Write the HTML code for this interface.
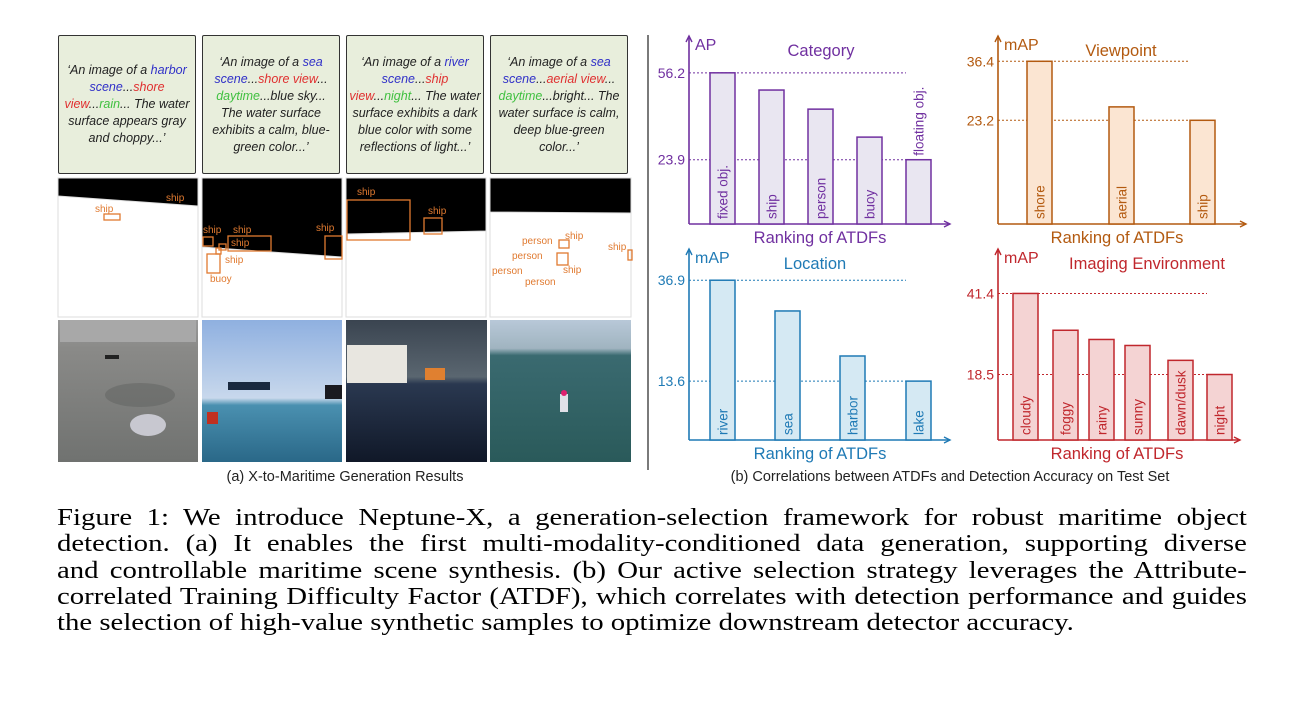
<!DOCTYPE html>
<html><head><meta charset="utf-8">
<style>
body{margin:0;width:1302px;height:702px;background:#fff;overflow:hidden;font-family:"Liberation Sans",sans-serif;}
.tb{position:absolute;top:35px;width:138px;height:139px;background:#e8eedc;border:1px solid #333;border-radius:2px;box-sizing:border-box;display:flex;align-items:center;justify-content:center;text-align:center;font-size:12.5px;line-height:17px;color:#222;font-style:italic;padding:2px}
.tb>div{width:100%}
.b{color:#3030c8}.r{color:#e03030}.g{color:#40c040}
.cap{position:absolute;left:57px;top:505px;width:1017px;transform:scaleX(1.17);transform-origin:0 0;font-family:"Liberation Serif",serif;font-size:24.6px;line-height:26.3px;color:#000}
.cap div{text-align:justify;text-align-last:justify;white-space:nowrap}
.cap div.last{text-align-last:left}
</style></head><body>
<div class="tb" style="left:58px"><div>‘An image of a <span class="b">harbor scene</span>...<span class="r">shore view</span>...<span class="g">rain</span>... The water surface appears gray and choppy...’</div></div>
<div class="tb" style="left:202px"><div>‘An image of a <span class="b">sea scene</span>...<span class="r">shore view</span>... <span class="g">daytime</span>...blue sky... The water surface exhibits a calm, blue-green color...’</div></div>
<div class="tb" style="left:346px"><div>‘An image of a <span class="b">river scene</span>...<span class="r">ship view</span>...<span class="g">night</span>... The water surface exhibits a dark blue color with some reflections of light...’</div></div>
<div class="tb" style="left:490px"><div>‘An image of a <span class="b">sea scene</span>...<span class="r">aerial view</span>... <span class="g">daytime</span>...bright... The water surface is calm, deep blue-green color...’</div></div>

<svg style="position:absolute;left:0;top:0" width="1302" height="500">
<defs>
<linearGradient id="p1" x1="0" y1="0" x2="0" y2="1"><stop offset="0" stop-color="#9a9a9a"/><stop offset=".2" stop-color="#8a8a88"/><stop offset="1" stop-color="#707270"/></linearGradient>
<linearGradient id="p2" x1="0" y1="0" x2="0" y2="1"><stop offset="0" stop-color="#8fb0e0"/><stop offset=".55" stop-color="#c8d8ec"/><stop offset=".6" stop-color="#4a90b0"/><stop offset="1" stop-color="#2a6888"/></linearGradient>
<linearGradient id="p3" x1="0" y1="0" x2="0" y2="1"><stop offset="0" stop-color="#3a4450"/><stop offset=".4" stop-color="#5a6670"/><stop offset=".45" stop-color="#2a3850"/><stop offset="1" stop-color="#101828"/></linearGradient>
<linearGradient id="p4" x1="0" y1="0" x2="0" y2="1"><stop offset="0" stop-color="#b8c8d8"/><stop offset=".2" stop-color="#a0b4c0"/><stop offset=".25" stop-color="#3a6a70"/><stop offset="1" stop-color="#2a5a5a"/></linearGradient>
</defs>
<g stroke="#ddd">
<rect x="58" y="178" width="140" height="139" fill="#fff"/><polygon points="58,178 198,178 198,206 58,196" fill="#000"/>
<rect x="202" y="178" width="140" height="139" fill="#fff"/><polygon points="202,178 342,178 342,257 202,247" fill="#000"/>
<rect x="346" y="178" width="140" height="139" fill="#fff"/><polygon points="346,178 486,178 486,231 346,234" fill="#000"/>
<rect x="490" y="178" width="141" height="139" fill="#fff"/><polygon points="490,178 631,178 631,213 490,212" fill="#000"/>
</g>
<g fill="none" stroke="#e07a30" stroke-width="1.3">
<rect x="104" y="214" width="16" height="6"/>
<rect x="203" y="237" width="10" height="9"/><rect x="228" y="236" width="43" height="15"/><rect x="219" y="244" width="7" height="6"/><rect x="216" y="248" width="5" height="6"/><rect x="207" y="254" width="13" height="19"/><rect x="325" y="236" width="17" height="23"/>
<rect x="347" y="200" width="63" height="40"/><rect x="424" y="218" width="18" height="16"/>
<rect x="559" y="240" width="10" height="8"/><rect x="557" y="253" width="11" height="12"/><rect x="628" y="250" width="4" height="10"/>
</g>
<g fill="#e07a30" font-size="10">
<text x="166" y="201">ship</text><text x="95" y="212">ship</text>
<text x="203" y="233">ship</text><text x="233" y="233">ship</text><text x="231" y="246">ship</text><text x="225" y="263">ship</text><text x="210" y="282">buoy</text><text x="316" y="231">ship</text>
<text x="357" y="195">ship</text><text x="428" y="214">ship</text>
<text x="522" y="244">person</text><text x="565" y="239">ship</text><text x="512" y="259">person</text><text x="492" y="274">person</text><text x="563" y="273">ship</text><text x="525" y="285">person</text><text x="608" y="250">ship</text>
</g>
<g>
<rect x="58" y="320" width="140" height="142" fill="url(#p1)"/><rect x="60" y="320" width="136" height="22" fill="#a8a8a8"/><ellipse cx="148" cy="425" rx="18" ry="11" fill="#c8c8d0"/><ellipse cx="140" cy="395" rx="35" ry="12" fill="#606260" opacity=".5"/><rect x="105" y="355" width="14" height="4" fill="#222"/>
<rect x="202" y="320" width="140" height="142" fill="url(#p2)"/><rect x="228" y="382" width="42" height="8" fill="#1a2a40"/><rect x="325" y="385" width="17" height="14" fill="#1a1a20"/><rect x="207" y="412" width="11" height="12" fill="#c03020"/>
<rect x="346" y="320" width="141" height="142" fill="url(#p3)"/><rect x="347" y="345" width="60" height="38" fill="#e8e6e0"/><rect x="425" y="368" width="20" height="12" fill="#e08030"/>
<rect x="490" y="320" width="141" height="142" fill="url(#p4)"/><rect x="560" y="394" width="8" height="18" fill="#e0e0e8"/><circle cx="564" cy="393" r="3" fill="#e02070"/>
</g>
<line x1="648" y1="35" x2="648" y2="470" stroke="#222" stroke-width="1.2"/>
<g id="charts"></g>
</svg>

<div style="position:absolute;left:58px;top:469px;width:574px;text-align:center;font-size:14.5px;color:#222">(a) X-to-Maritime Generation Results</div>
<div style="position:absolute;left:650px;top:469px;width:600px;text-align:center;font-size:14.5px;color:#222">(b) Correlations between ATDFs and Detection Accuracy on Test Set</div>
<div class="cap">
<div>Figure 1: We introduce Neptune-X, a generation-selection framework for robust maritime object</div>
<div>detection. (a) It enables the first multi-modality-conditioned data generation, supporting diverse</div>
<div>and controllable maritime scene synthesis. (b) Our active selection strategy leverages the Attribute-</div>
<div>correlated Training Difficulty Factor (ATDF), which correlates with detection performance and guides</div>
<div class="last">the selection of high-value synthetic samples to optimize downstream detector accuracy.</div>
</div>

<script>
const catLabels=["fixed obj.","ship","person","buoy","floating obj."];
const catValues=[56.2,49.8,42.7,32.3,23.9];
const catTicks=[56.2,23.9];
const vpLabels=["shore","aerial","ship"];
const vpValues=[36.4,26.2,23.2];
const vpTicks=[36.4,23.2];
const locLabels=["river","sea","harbor","lake"];
const locValues=[36.9,29.8,19.4,13.6];
const locTicks=[36.9,13.6];
const envLabels=["cloudy","foggy","rainy","sunny","dawn/dusk","night"];
const envValues=[41.4,31.0,28.4,26.7,22.5,18.5];
const envTicks=[41.4,18.5];

const NS="http://www.w3.org/2000/svg";
const root=document.getElementById('charts');
function mk(tag,attrs,parent){const e=document.createElementNS(NS,tag);for(const k in attrs)e.setAttribute(k,attrs[k]);(parent||root).appendChild(e);return e;}
function chart(o){
  const g=mk('g',{});
  
  
  const y=v=>o.base-v*o.k;
  const ax=mk('path',{d:`M${o.ax},${o.base} L${o.ax},${o.top} M${o.ax},${o.base} L${o.xend},${o.base}`,stroke:o.c,'stroke-width':1.6,fill:'none'},g);
  
  
  mk('path',{d:`M${o.ax-3},${o.top+6} L${o.ax},${o.top} L${o.ax+3},${o.top+6} M${o.xend-6},${o.base-3} L${o.xend},${o.base} L${o.xend-6},${o.base+3}`,stroke:o.c,'stroke-width':1.4,fill:'none'},g);
  o.ticks.forEach(t=>{
    const tl=mk('line',{x1:o.ax,x2:o.tickEnd,y1:y(t),y2:y(t),stroke:o.c,'stroke-dasharray':'2,2','stroke-width':1},g);
    
    
    const tx=mk('text',{x:o.ax-4,y:y(t)+5,fill:o.c,'font-size':14,'text-anchor':'end'},g);
    tx.textContent=t.toFixed(1);
    
    
  });
  o.vals.forEach((v,i)=>{
    const x0=o.ax+o.pos[i];
    const r=mk('rect',{x:x0,y:y(v),width:o.w,height:o.base-y(v),fill:o.f,stroke:o.c,'stroke-width':1.5},g);
    
    
    const lx=x0+o.w/2+5, ly=o.labelBottom[i]?y(v)-4:o.base-5;
    const t=mk('text',{x:lx,y:ly,fill:o.c,'font-size':13.5,transform:`rotate(-90 ${lx} ${ly})`},g);
    t.textContent=o.labels[i];
    
    
  });
  const yt=mk('text',{x:o.ax+6,y:o.top+14,fill:o.c,'font-size':16},g);yt.textContent=o.ylab;
  
  
  const tt=mk('text',{x:o.titleX,y:o.top+20,fill:o.c,'font-size':16.5,'text-anchor':'middle'},g);tt.textContent=o.title;
  
  
  const xt=mk('text',{x:o.xtX,y:o.base+19,fill:o.c,'font-size':16.5,'text-anchor':'middle'},g);xt.textContent='Ranking of ATDFs';
  
  
}
chart({name:'category-chart',c:'#7030a0',f:'#e9e6f1',ax:689,base:224,top:36,xend:950,k:2.69,ticks:catTicks,tickEnd:906,
  vals:catValues,labels:catLabels,pos:[21,70,119,168,217],w:25,labelBottom:[0,0,0,0,1],ylab:'AP',title:'Category',titleX:821,xtX:820});
chart({name:'viewpoint-chart',c:'#b35a10',f:'#fbe5d2',ax:998,base:224,top:36,xend:1246,k:4.47,ticks:vpTicks,tickEnd:1190,
  vals:vpValues,labels:vpLabels,pos:[29,111,192],w:25,labelBottom:[0,0,0],ylab:'mAP',title:'Viewpoint',titleX:1121,xtX:1117});
chart({name:'location-chart',c:'#1f7ab5',f:'#d5e9f3',ax:689,base:440,top:249,xend:950,k:4.33,ticks:locTicks,tickEnd:906,
  vals:locValues,labels:locLabels,pos:[21,86,151,217],w:25,labelBottom:[0,0,0,0],ylab:'mAP',title:'Location',titleX:815,xtX:820});
chart({name:'imaging-environment-chart',c:'#c0272d',f:'#f4d3d3',ax:998,base:440,top:249,xend:1240,k:3.54,ticks:envTicks,tickEnd:1207,
  vals:envValues,labels:envLabels,pos:[15,55,91,127,170,209],w:25,labelBottom:[0,0,0,0,0,0],ylab:'mAP',title:'Imaging Environment',titleX:1147,xtX:1117});
</script>
</body></html>
